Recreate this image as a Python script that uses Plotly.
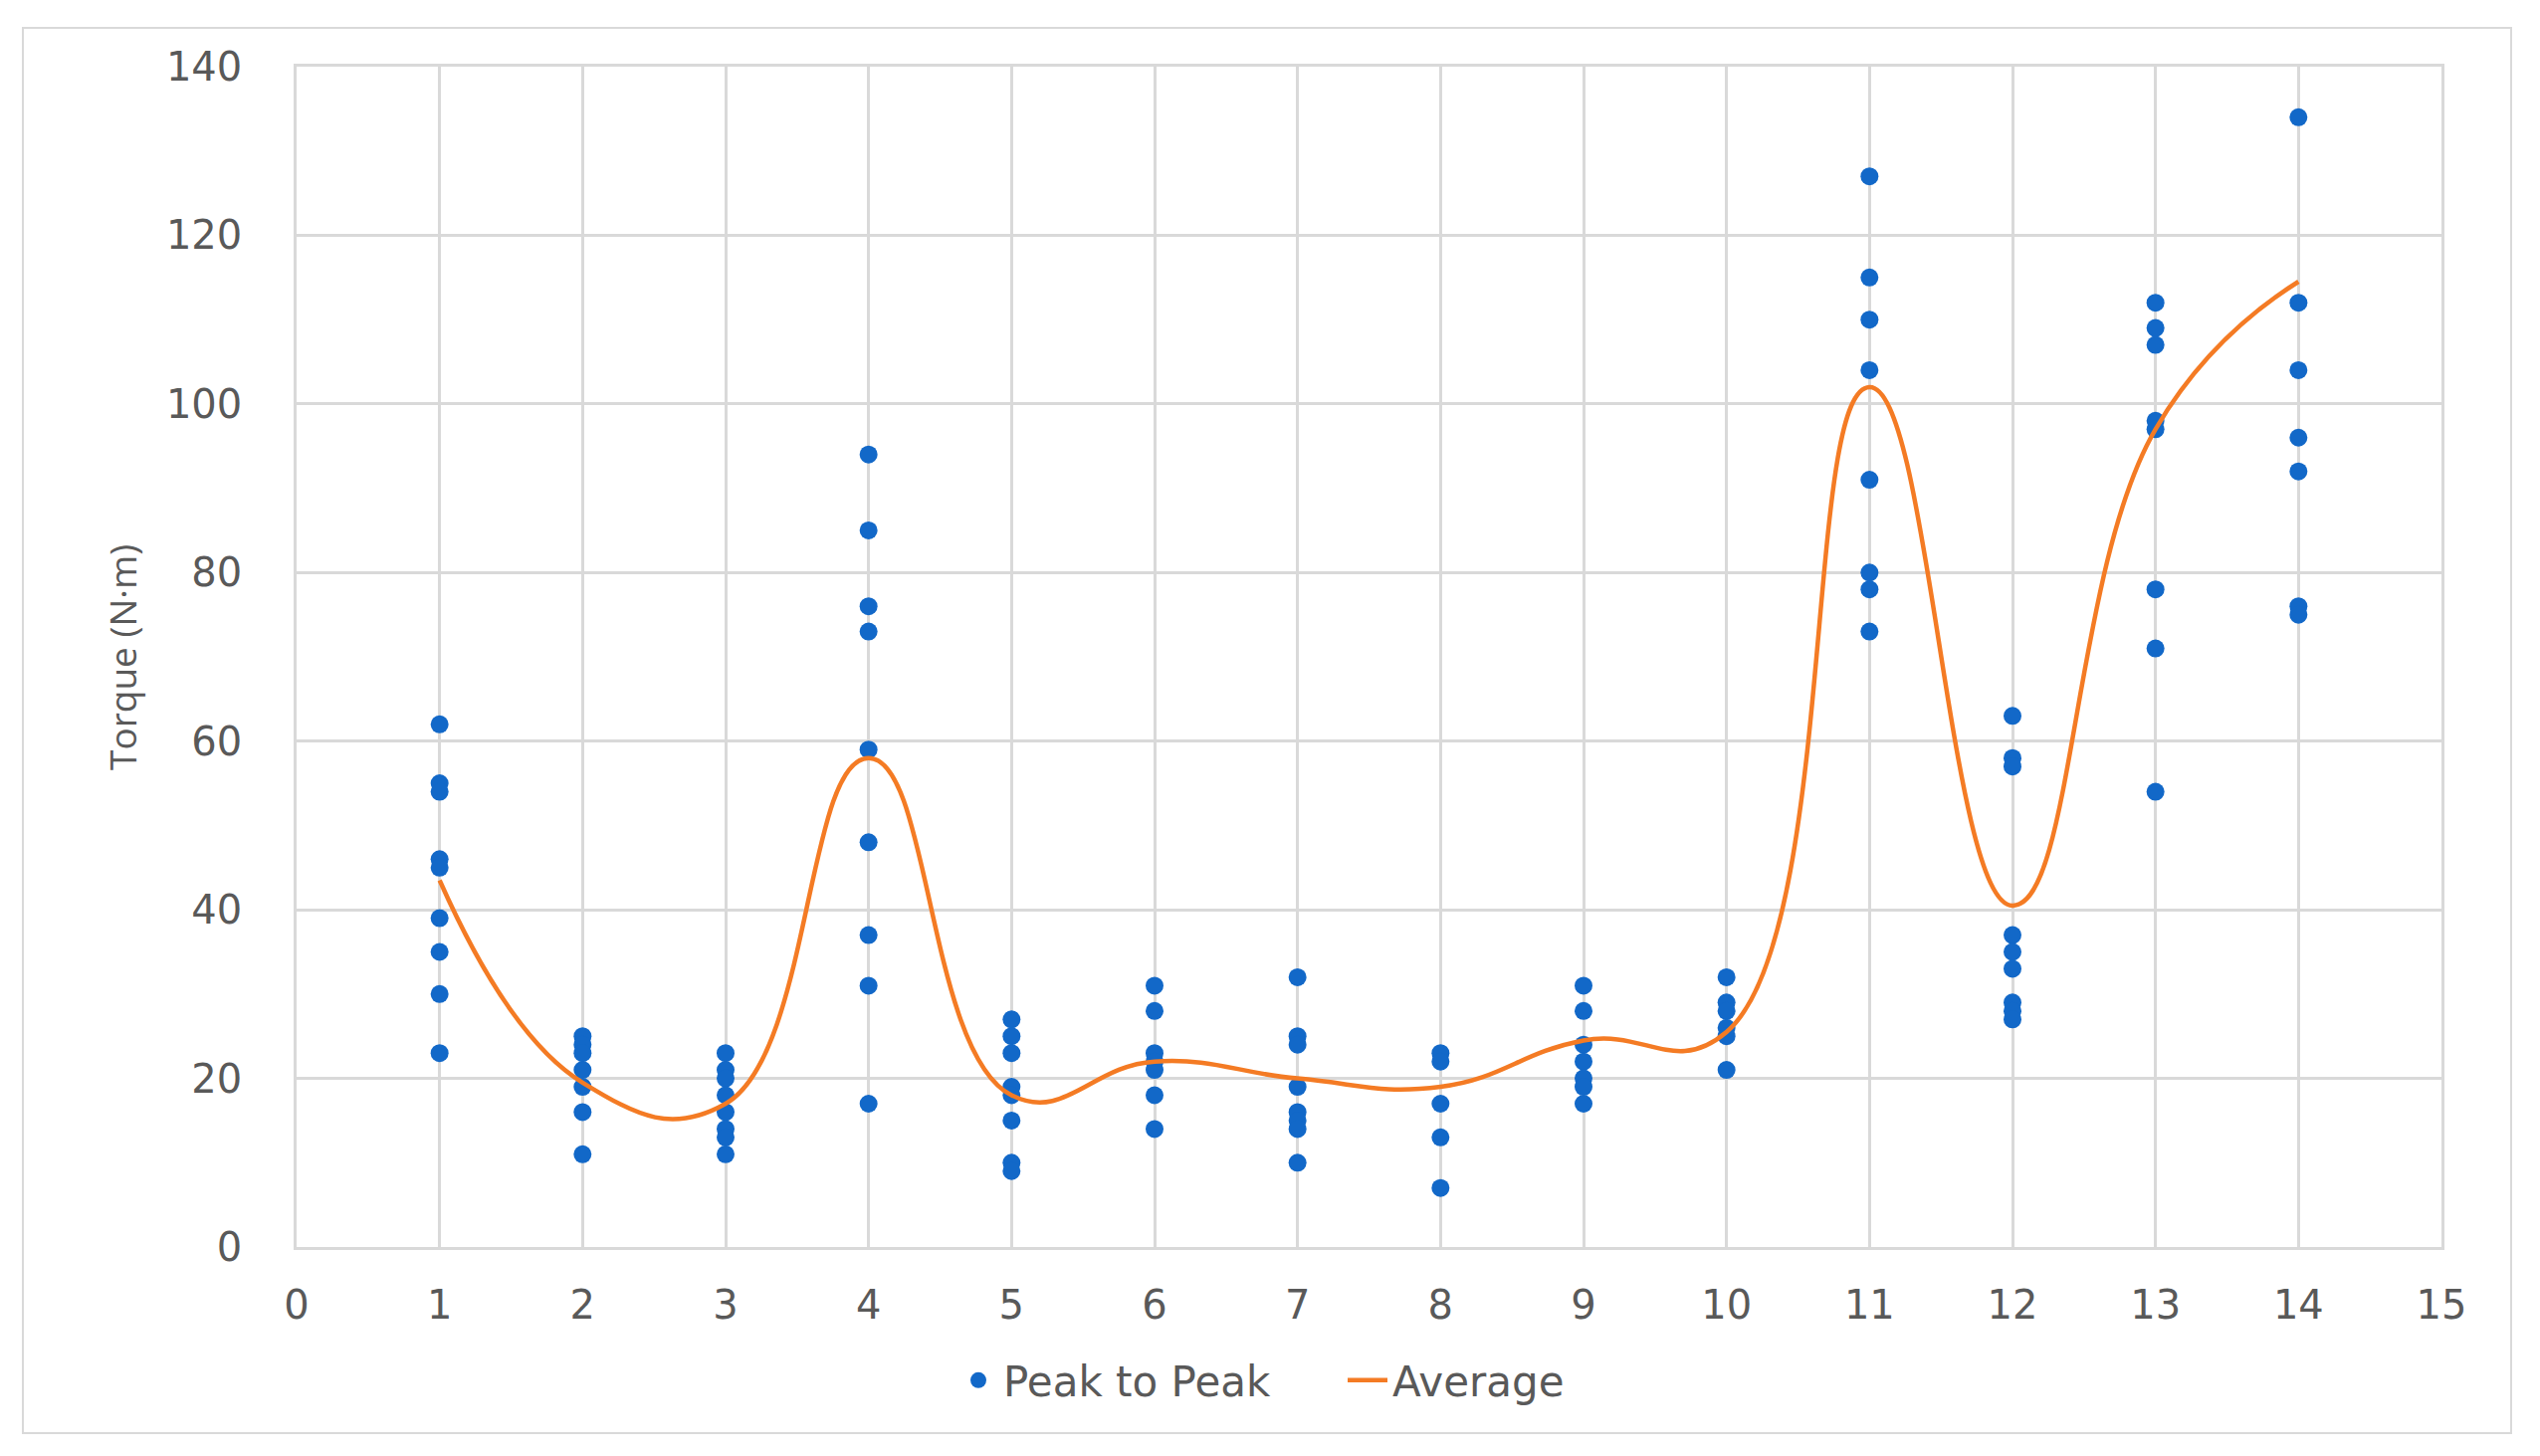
import plotly.graph_objects as go

# ---- data ----
categories = [1, 2, 3, 4, 5, 6, 7, 8, 9, 10, 11, 12, 13, 14]

peak_1 = [62, 55, 54, 46, 45, 39, 35, 30, 23]
peak_2 = [25, 24, 23, 21, 19, 16, 11]
peak_3 = [23, 21, 20, 18, 16, 14, 13, 11]
peak_4 = [94, 85, 76, 73, 59, 48, 37, 31, 17]
peak_5 = [27, 25, 23, 19, 18, 15, 10, 9]
peak_6 = [31, 28, 23, 22, 21, 18, 14]
peak_7 = [32, 25, 24, 19, 16, 15, 14, 10]
peak_8 = [23, 22, 17, 13, 7]
peak_9 = [31, 28, 24, 22, 20, 19, 17]
peak_10 = [32, 29, 28, 26, 25, 21]
peak_11 = [127, 115, 110, 104, 91, 80, 78, 73]
peak_12 = [63, 58, 57, 37, 35, 33, 29, 28, 27]
peak_13 = [112, 109, 107, 98, 97, 78, 71, 54]
peak_14 = [134, 112, 104, 96, 92, 76, 75]

average = [43.5, 19.5, 17, 58, 18, 22, 20, 19, 24.5, 25.5, 102, 40.5, 97, 114.5]

x_ticks = list(range(0, 16))
y_ticks = [0, 20, 40, 60, 80, 100, 120, 140]

peaks = [peak_1, peak_2, peak_3, peak_4, peak_5, peak_6, peak_7,
         peak_8, peak_9, peak_10, peak_11, peak_12, peak_13, peak_14]

px, py = [], []
for c, vals in zip(categories, peaks):
    for v in vals:
        px.append(c)
        py.append(v)

BLUE = "#1268C8"
ORANGE = "#F47B24"
GRID = "#D9D9D9"
TEXT = "#595959"

fig = go.Figure()
fig.add_trace(go.Scatter(
    x=px, y=py, mode="markers", name="Peak to Peak",
    marker=dict(color=BLUE, size=18, line=dict(width=0)),
))
fig.add_trace(go.Scatter(
    x=categories, y=average, mode="lines", name="Average",
    line=dict(color=ORANGE, width=4.5, shape="spline", smoothing=1.3),
))

W, H = 2552, 1463
L, R, T, B = 298, 2453, 67, 1253
pw, ph = R - L, B - T


def px_to_paper_x(v):
    return (v - L) / pw


def px_to_paper_y(v):
    return (B - v) / ph


fig.update_layout(
    width=W, height=H,
    margin=dict(l=L, r=W - R, t=T, b=H - B, pad=0),
    paper_bgcolor="white", plot_bgcolor="white",
    font=dict(family="DejaVu Sans", color=TEXT, size=38),
    showlegend=True,
    legend=dict(
        orientation="h", x=px_to_paper_x(958), xanchor="left",
        y=px_to_paper_y(1387), yanchor="middle",
        font=dict(family="DejaVu Sans", size=42, color=TEXT),
        entrywidth=336, entrywidthmode="pixels",
        itemwidth=40, bgcolor="rgba(0,0,0,0)",
    ),
    shapes=[dict(
        type="rect", xref="paper", yref="paper",
        x0=px_to_paper_x(23), x1=px_to_paper_x(2523),
        y0=px_to_paper_y(1440), y1=px_to_paper_y(28),
        line=dict(color=GRID, width=2), fillcolor="rgba(0,0,0,0)", layer="below",
    )],
    annotations=[dict(
        text="Torque (N·m)", xref="paper", yref="paper",
        x=px_to_paper_x(122), y=px_to_paper_y(661),
        xanchor="center", yanchor="middle", textangle=-90, showarrow=False,
        font=dict(family="Open Sans", size=37, color=TEXT),
    )],
)

fig.update_xaxes(
    range=[0, 15], tickvals=x_ticks, ticktext=[str(t) for t in x_ticks],
    showgrid=True, gridcolor=GRID, gridwidth=2.5,
    showline=True, linecolor=GRID, linewidth=2.5, mirror=True,
    zeroline=False, ticks="", ticklabelstandoff=21,
    tickfont=dict(family="DejaVu Sans", size=40, color=TEXT),
)
fig.update_yaxes(
    range=[0, 140], tickvals=y_ticks, ticktext=[str(t) for t in y_ticks],
    showgrid=True, gridcolor=GRID, gridwidth=2.5,
    showline=True, linecolor=GRID, linewidth=2.5, mirror=True,
    zeroline=False, ticks="", ticklabelstandoff=44,
    tickfont=dict(family="DejaVu Sans", size=40, color=TEXT),
)

fig.write_html("out.html", config={"displayModeBar": False},
               post_script="document.body.style.margin='0';document.body.style.overflow='hidden';")
